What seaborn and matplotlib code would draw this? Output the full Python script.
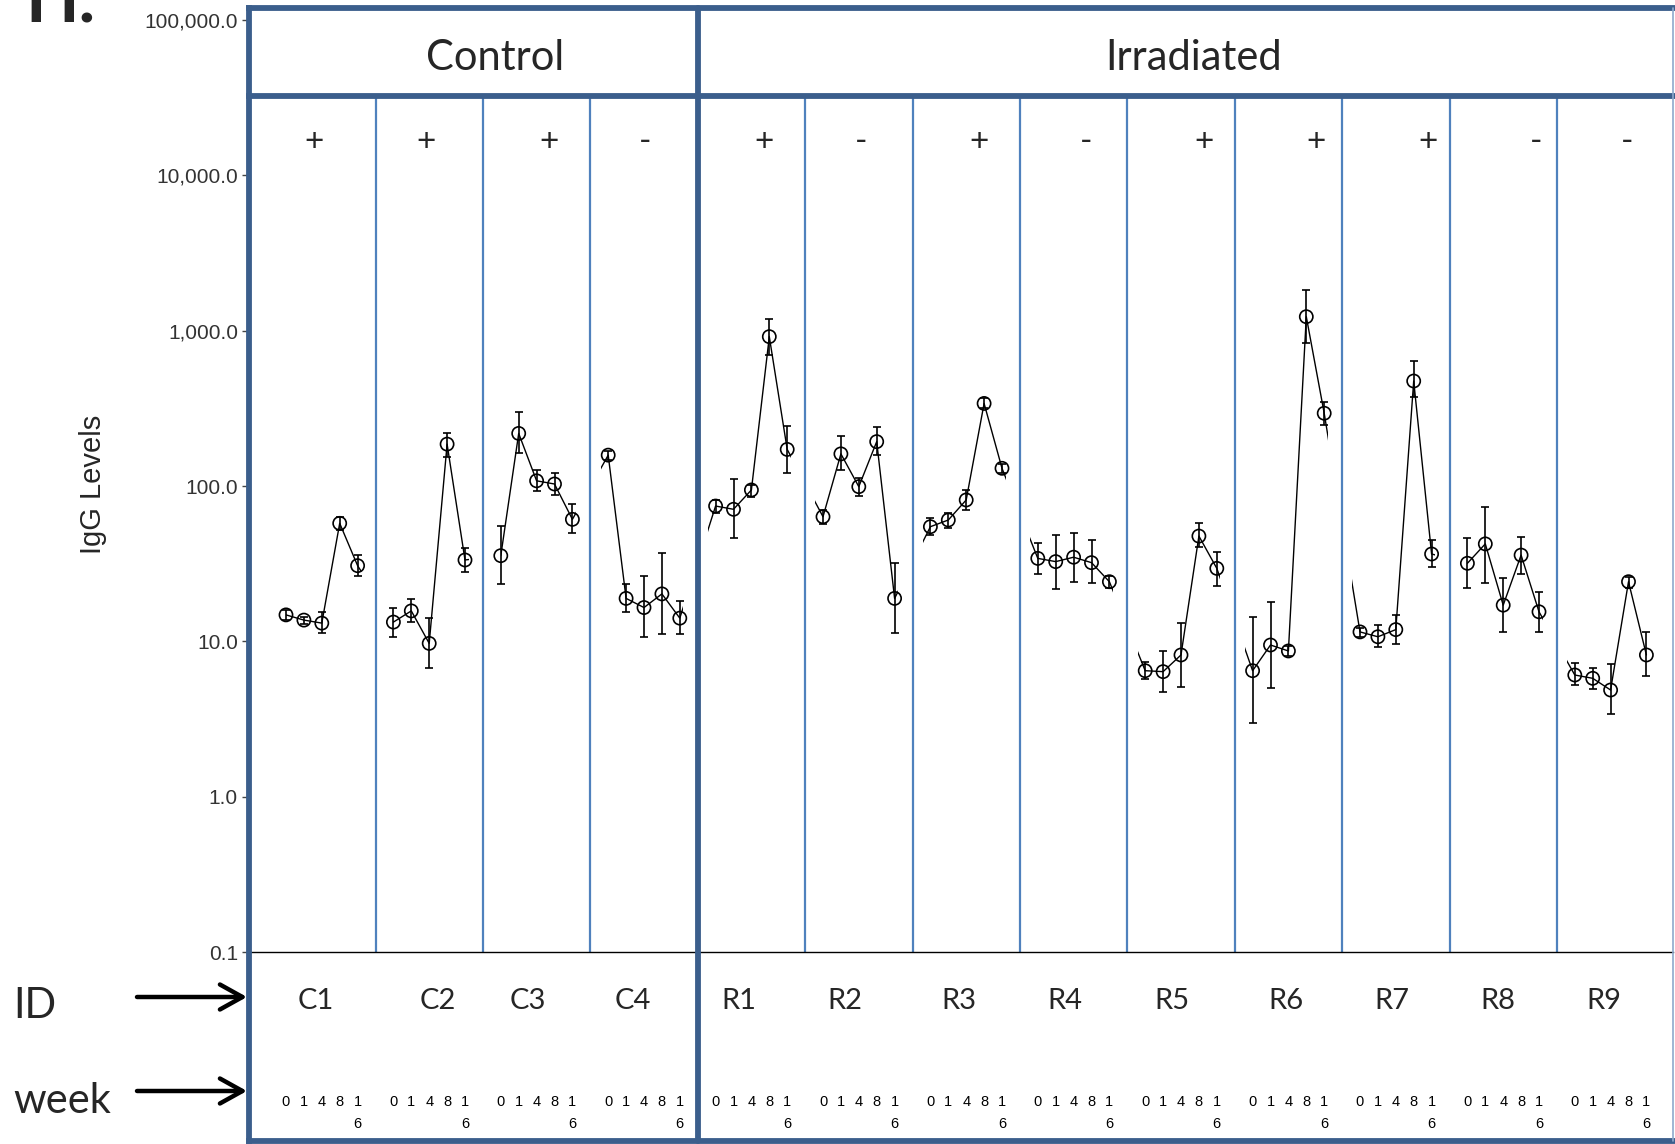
import numpy as np
import pandas as pd
import matplotlib
matplotlib.use("Agg")
import matplotlib.pyplot as plt
from matplotlib.patches import Rectangle
from matplotlib.ticker import NullLocator
import seaborn as sns

# ---------------- data ----------------
ids = ["C1", "C2", "C3", "C4", "R1", "R2", "R3", "R4", "R5", "R6", "R7", "R8", "R9"]
groups = ["Control", "Control", "Control", "Control",
          "Irradiated", "Irradiated", "Irradiated", "Irradiated", "Irradiated",
          "Irradiated", "Irradiated", "Irradiated", "Irradiated"]
signs = ["+", "+", "+", "-", "+", "-", "+", "-", "+", "+", "+", "-", "-"]
weeks = ["0", "1", "4", "8", "16"]
week_tick_labels = ["0", "1", "4", "8", "1\n6"]
y_ticks = [0.1, 1, 10, 100, 1000, 10000, 100000]

igg_mean = [
    [14.8, 13.7, 13.1, 57.5, 30.7],
    [13.3, 15.7, 9.7, 186, 33.4],
    [35.6, 218, 108, 103, 61],
    [158, 18.9, 16.5, 20.2, 14.1],
    [74.3, 70.8, 94.3, 915, 172],
    [63.4, 161, 99, 193, 18.9],
    [54.7, 60.4, 81.3, 340, 130],
    [34.2, 32.6, 34.8, 32.1, 24.2],
    [6.47, 6.38, 8.17, 47.6, 29.5],
    [6.47, 9.47, 8.67, 1230, 294],
    [11.5, 10.7, 11.9, 474, 36.5],
    [31.8, 42.4, 17.1, 35.9, 15.5],
    [6.07, 5.78, 4.86, 24.2, 8.17],
]
igg_low = [
    [13.8, 13.0, 11.3, 52.1, 26.4],
    [10.6, 13.3, 6.7, 154, 28.1],
    [23.4, 163, 93, 88, 49.7],
    [148, 15.5, 10.6, 11.1, 11.1],
    [66.7, 46, 85, 697, 122],
    [57, 126, 86, 158, 11.3],
    [48.4, 53.3, 70.1, 317, 122],
    [27.2, 21.6, 24.2, 23.9, 22.0],
    [5.7, 4.7, 5.1, 40.6, 22.7],
    [3.0, 5.0, 8.0, 830, 247],
    [10.7, 9.2, 9.6, 376, 30.0],
    [22.0, 23.9, 11.5, 27.2, 11.5],
    [5.2, 4.9, 3.4, 22, 6.0],
]
igg_high = [
    [15.8, 14.4, 15.5, 63.4, 36],
    [16.3, 18.7, 14.1, 220, 39.7],
    [55.3, 299, 127, 121, 76.6],
    [167, 23.4, 26.4, 36.9, 18.2],
    [81.3, 111, 101, 1189, 244],
    [70, 210, 112, 239, 32.1],
    [62, 66.9, 94.3, 367, 138],
    [42.8, 48.4, 49.6, 44.9, 26.4],
    [7.4, 8.7, 13.1, 57.5, 37.4],
    [14.4, 18.0, 9.4, 1828, 349],
    [12.1, 12.7, 14.8, 638, 44.9],
    [46, 73.6, 25.7, 47.2, 20.9],
    [7.3, 6.7, 7.1, 26, 11.5],
]

# ---------------- layout (not data) ----------------
sign_offsets = [1.55, 1.82, 2.69, 2.06, 2.69, 2.12, 2.69, 2.72, 3.28, 3.55, 3.82, 3.85, 2.93]
id_offsets = [1.67, 2.48, 1.49, 1.40, 1.31, 1.22, 1.61, 1.52, 1.49, 1.88, 1.79, 1.70, 1.61]
show_lead_in = [False, False, False, True, True, True, True, True, True, True, True, False, True]
PANEL = 6
W, H = 1675, 1144
AX_L, AX_R, AX_T, AX_B = 249, 1673, 20, 952
X0_PX, UNIT_PX = 286, 17.9
FRAME = "#3B5E8C"
DIVIDER = "#4F81BD"

sns.set_style("white")
plt.rcParams["font.family"] = ["Lato", "DejaVu Sans"]

fig = plt.figure(figsize=(W / 100, H / 100), dpi=100)
fig.patch.set_facecolor("white")
ax = fig.add_axes([AX_L / W, 1 - AX_B / H, (AX_R - AX_L) / W, (AX_B - AX_T) / H])
ax.set_facecolor("white")
ax.set_yscale("log")


def yfrac(ypx):
    return (AX_B - ypx) / (AX_B - AX_T)


rows = []
for p, (pid, grp, m, lo, hi) in enumerate(zip(ids, groups, igg_mean, igg_low, igg_high)):
    for k, wk in enumerate(weeks):
        rows.append(dict(id=pid, group=grp, week=wk, x=p * PANEL + k,
                         igg=m[k], lo=lo[k], hi=hi[k], panel=p))
df = pd.DataFrame(rows)

xt = ax.get_xaxis_transform()
n = len(ids)
for p in range(n):
    sub = df[df.panel == p]
    parts = []
    if p > 0:
        parts.append(df[df.panel == p - 1].iloc[[-1]])
    parts.append(sub)
    if p < n - 1:
        parts.append(df[df.panel == p + 1].iloc[[0]])
    seg = pd.concat(parts)
    nl = len(ax.lines)
    sns.lineplot(data=seg, x="x", y="igg", ax=ax, color="black", lw=1.0,
                 sort=False, estimator=None, legend=False)
    left = p * PANEL - (0.42 if show_lead_in[p] else 0.0)
    right = p * PANEL + 4.2
    clip = Rectangle((left, 0), right - left, 1, transform=xt)
    for ln in ax.lines[nl:]:
        ln.set_clip_path(clip)
    ax.errorbar(sub.x, sub.igg, yerr=[sub.igg - sub.lo, sub.hi - sub.igg],
                fmt="none", ecolor="black", elinewidth=1.2, capsize=2.6,
                capthick=1.2, zorder=3)
    nc = len(ax.collections)
    sns.scatterplot(data=sub, x="x", y="igg", ax=ax, color="black", s=90,
                    legend=False, zorder=4)
    for c in ax.collections[nc:]:
        c.set_facecolor("none")
        c.set_edgecolor("black")
        c.set_linewidth(1.2)

ax.set_xlim((AX_L - X0_PX) / UNIT_PX, (AX_R - X0_PX) / UNIT_PX)
ax.set_ylim(0.1, 1e5)

# panel dividers
for k in range(1, n):
    xd = k * PANEL - 1
    if groups[k] != groups[k - 1]:
        ax.axvline(xd, ymin=yfrac(1141), ymax=yfrac(8), color=FRAME, lw=4.2,
                   clip_on=False, zorder=6)
    else:
        ax.axvline(xd, ymin=0, ymax=yfrac(96), color=DIVIDER, lw=1.6, zorder=1)

# sign and ID labels
for p in range(n):
    ax.text(p * PANEL + sign_offsets[p], yfrac(151), signs[p], transform=xt,
            ha="center", va="baseline", fontsize=24, clip_on=False)
    ax.text(p * PANEL + id_offsets[p], yfrac(1009), ids[p], transform=xt,
            ha="center", va="baseline", fontsize=21, clip_on=False)

# axes styling
for s in ["left", "top", "right"]:
    ax.spines[s].set_visible(False)
ax.spines["bottom"].set_color("black")
ax.spines["bottom"].set_linewidth(1.0)
ax.set_yticks(y_ticks)
ax.set_yticklabels([f"{v:,.1f}" for v in y_ticks])
ax.yaxis.set_minor_locator(NullLocator())
ax.tick_params(axis="y", left=True, length=5, width=1, color="#444444",
               labelsize=15, labelcolor="#333333", pad=3)
for t in ax.get_yticklabels():
    t.set_fontfamily("Liberation Sans")
ax.set_xticks(df.x)
ax.set_xticklabels(week_tick_labels * n)
ax.tick_params(axis="x", length=0, pad=103, labelsize=10.5, labelcolor="black")
for t in ax.get_xticklabels():
    t.set_fontfamily("Liberation Sans")
    t.set_linespacing(1.75)
ax.set_xlabel("")
ax.set_ylabel("")
ax.grid(False)

# overlay for frame and annotations (pixel coordinates)
ov = fig.add_axes([0, 0, 1, 1], zorder=5)
ov.set_xlim(0, W)
ov.set_ylim(H, 0)
ov.axis("off")
ov.patch.set_alpha(0)
kw = dict(color=FRAME, lw=4.2, solid_capstyle="projecting", clip_on=False)
ov.plot([249, 1673], [8, 8], **kw)
ov.plot([249, 1673], [96, 96], **kw)
ov.plot([249, 1673], [1141, 1141], **kw)
ov.plot([249, 249], [8, 1141], **kw)
ov.plot([1673, 1673], [8, 1141], color="#8EA9CC", lw=1.2, clip_on=False)

ov.text(495, 70, "Control", ha="center", va="baseline", fontsize=30)
ov.text(1194, 70, "Irradiated", ha="center", va="baseline", fontsize=30)
ov.text(93, 484, "IgG Levels", rotation=90, ha="center", va="center",
        fontsize=21, family="Liberation Sans")
ov.text(13, 1018, "ID", ha="left", va="baseline", fontsize=30)
ov.text(13, 1113, "week", ha="left", va="baseline", fontsize=30)
ov.text(25, 22, "H.", ha="left", va="baseline", fontsize=50, fontweight="bold")
for yy in (997, 1091):
    ov.annotate("", xy=(247, yy), xytext=(137, yy),
                arrowprops=dict(arrowstyle="->,head_length=0.9,head_width=0.5",
                                lw=3.2, color="black", mutation_scale=18,
                                shrinkA=0, shrinkB=0))

fig.savefig("out.png", dpi=100, facecolor="white")
